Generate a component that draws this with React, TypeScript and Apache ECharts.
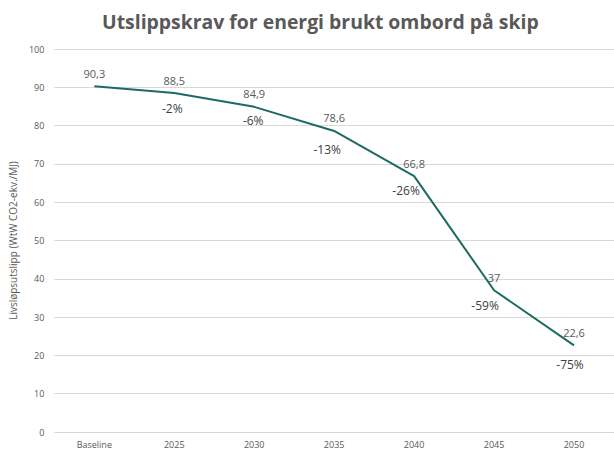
import React, { useEffect, useRef } from "react";
import * as echarts from "echarts";

const categories = ["Baseline", "2025", "2030", "2035", "2040", "2045", "2050"];
const values = [90.3, 88.5, 84.9, 78.6, 66.8, 37, 22.6];
const valueLabels = ["90,3", "88,5", "84,9", "78,6", "66,8", "37", "22,6"];
const pctLabels = ["", "-2%", "-6%", "-13%", "-26%", "-59%", "-75%"];

// label placement (layout only): offset of each % label's centre from its point, px
const pctLabelOffsets = [[0, 0], [-2, 16], [-1, 14], [-7, 19], [-8, 15], [-9, 16], [-4, 20]];

const FONT = "'Open Sans', 'Noto Sans', sans-serif";

export default function App() {
  const ref = useRef<HTMLDivElement>(null);
  useEffect(() => {
    if (!ref.current) return;
    const chart = echarts.init(ref.current, undefined, { renderer: "svg" });
    chart.setOption({
      animation: false,
      backgroundColor: "#ffffff",
      title: {
        text: "Utslippskrav for energi brukt ombord på skip",
        left: 97,
        top: 7,
        textStyle: { fontFamily: FONT, fontSize: 19.4, fontWeight: "bold", color: "#595959" },
      },
      grid: { left: 54, top: 49, width: 568, height: 383, containLabel: false },
      xAxis: {
        type: "category",
        data: categories,
        boundaryGap: true,
        axisLine: { show: false },
        axisTick: { show: false },
        axisLabel: { fontFamily: FONT, fontSize: 9, color: "#595959", margin: 8 },
      },
      yAxis: {
        type: "value",
        min: 0,
        max: 100,
        interval: 10,
        name: "Livsløpsutslipp (WtW CO2-ekv./MJ)",
        nameLocation: "middle",
        nameRotate: 90,
        nameGap: 36,
        nameTextStyle: { fontFamily: FONT, fontSize: 10, color: "#595959" },
        axisLine: { show: false },
        axisTick: { show: false },
        axisLabel: { fontFamily: FONT, fontSize: 9, color: "#595959", margin: 10 },
        splitLine: { lineStyle: { color: "#d9d9d9", width: 1 } },
      },
      series: [
        {
          type: "line",
          data: values,
          symbol: "circle",
          symbolSize: 1,
          showSymbol: true,
          lineStyle: { color: "#1b6b63", width: 2 },
          itemStyle: { color: "rgba(0,0,0,0)" },
          label: {
            show: true,
            position: "top",
            distance: 7,
            fontFamily: FONT,
            fontSize: 11,
            color: "#595959",
            formatter: (p: any) => valueLabels[p.dataIndex],
          },
        },
        {
          type: "line",
          data: values.map((v, i) => ({
            value: v,
            label: { offset: [pctLabelOffsets[i][0], pctLabelOffsets[i][1] - 7] },
          })),
          symbol: "circle",
          symbolSize: 1,
          showSymbol: true,
          lineStyle: { width: 0, color: "rgba(0,0,0,0)" },
          itemStyle: { color: "rgba(0,0,0,0)" },
          label: {
            show: true,
            position: "bottom",
            distance: 0,
            fontFamily: FONT,
            fontSize: 12,
            color: "#404040",
            formatter: (p: any) => pctLabels[p.dataIndex],
          },
          z: 1,
        },
      ],
    });
    return () => chart.dispose();
  }, []);
  return <div ref={ref} style={{ width: 614, height: 450, position: "absolute", left: 0, top: 0 }} />;
}
